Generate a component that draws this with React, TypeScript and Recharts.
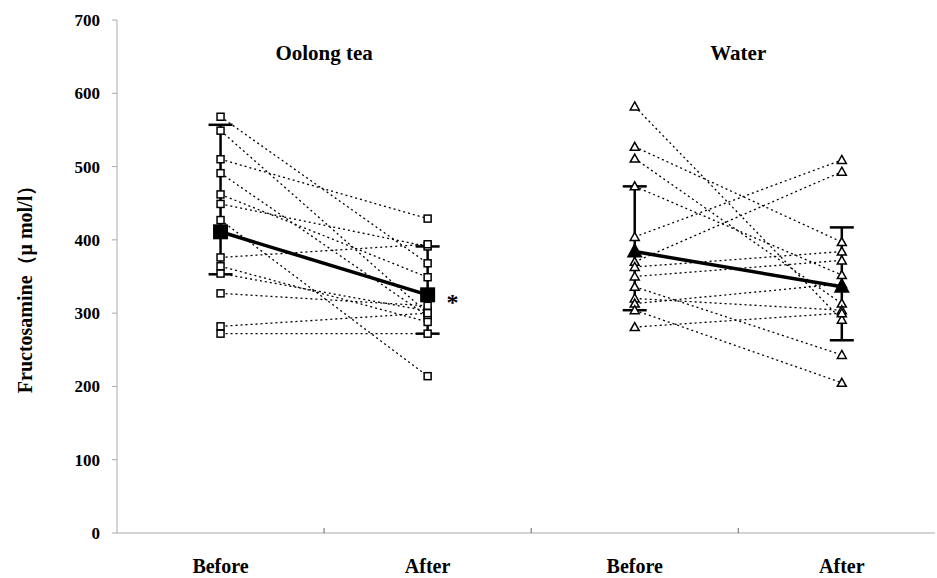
import React from 'react';
import {
  ScatterChart,
  Scatter,
  XAxis,
  YAxis,
  ErrorBar,
  ReferenceDot,
} from 'recharts';

// x positions: Before/After for each group (numeric axis, one unit per slot)
const slots = [0.5, 1.5, 2.5, 3.5];
const slotLabels = ['Before', 'After', 'Before', 'After'];
const groupTitles = ['Oolong tea', 'Water'];

// individual subjects (µmol/l)
const oolongBefore = [568, 549, 510, 491, 462, 449, 427, 376, 364, 354, 327, 282, 272];
const oolongAfter = [368, 300, 429, 296, 349, 391, 214, 394, 288, 303, 310, 300, 272];
const waterBefore = [582, 527, 511, 473, 404, 370, 363, 350, 336, 320, 313, 304, 281];
const waterAfter = [291, 397, 313, 352, 509, 493, 384, 372, 243, 304, 340, 205, 300];

// group means with SD (lower, upper)
const oolongMean = [411, 325];
const oolongSd = [[58, 146], [53, 66]];
const waterMean = [384, 336];
const waterSd = [[80, 89], [73, 81]];

const FONT = '"Liberation Serif", "Times New Roman", serif';

const pair = (b: number, a: number, x0: number, x1: number) => [
  { x: x0, y: b },
  { x: x1, y: a },
];

const meanData = (m: number[], sd: number[][], x0: number, x1: number) => [
  { x: x0, y: m[0], err: sd[0] },
  { x: x1, y: m[1], err: sd[1] },
];

const openSquare = (p: any) => (
  <rect x={p.cx - 3.5} y={p.cy - 3.5} width={7} height={7} fill="#fff" stroke="#000" strokeWidth={1.5} />
);
const bigSquare = (p: any) => (
  <rect x={p.cx - 7.5} y={p.cy - 7.5} width={15} height={15} fill="#000" />
);
const openTriangle = (p: any) => (
  <path
    d={`M${p.cx},${p.cy - 4.5}L${p.cx + 4.5},${p.cy + 3.5}L${p.cx - 4.5},${p.cy + 3.5}Z`}
    fill="#fff"
    stroke="#000"
    strokeWidth={1.5}
  />
);
const bigTriangle = (p: any) => (
  <path d={`M${p.cx},${p.cy - 9}L${p.cx + 8},${p.cy + 6}L${p.cx - 8},${p.cy + 6}Z`} fill="#000" />
);

const dotted = { stroke: '#000', strokeWidth: 1.3, strokeDasharray: '2 3' };
const thick = { stroke: '#000', strokeWidth: 3.5 };

function XTick(props: any) {
  const { x, y, payload } = props;
  const v = payload.value as number;
  const idx = slots.indexOf(v);
  if (idx >= 0) {
    return (
      <text x={x} y={y + 40} textAnchor="middle" fontFamily={FONT} fontWeight="bold" fontSize={20} fill="#000">
        {slotLabels[idx]}
      </text>
    );
  }
  return <line x1={x} x2={x} y1={y} y2={y - 5} stroke="#666" strokeWidth={1} />;
}

function YLabel(props: any) {
  const vb = props.viewBox;
  const cx = 25;
  const cy = vb.y + vb.height / 2 + 8;
  return (
    <text
      x={cx}
      y={cy}
      transform={`rotate(-90 ${cx} ${cy})`}
      textAnchor="middle"
      dominantBaseline="central"
      fontFamily={FONT}
      fontWeight="bold"
      fontSize={20}
      fill="#000"
    >
      Fructosamine（μ mol/l）
    </text>
  );
}

export default function App() {
  return (
    <div style={{ position: 'absolute', left: 0, top: 0, background: '#fff' }}>
      <ScatterChart width={937} height={578} margin={{ top: 20, right: 2, bottom: 0, left: 0 }}>
        <XAxis
          type="number"
          dataKey="x"
          domain={[0, 3.95]}
          ticks={[0.5, 1, 1.5, 2, 2.5, 3, 3.5]}
          tick={<XTick />}
          tickLine={false}
          tickSize={0}
          tickMargin={0}
          height={45}
          axisLine={{ stroke: '#aaa', strokeWidth: 1 }}
          allowDataOverflow
        />
        <YAxis
          type="number"
          dataKey="y"
          domain={[0, 700]}
          ticks={[0, 100, 200, 300, 400, 500, 600, 700]}
          width={117}
          tickSize={5}
          tickMargin={12}
          axisLine={{ stroke: '#aaa', strokeWidth: 1 }}
          tickLine={{ stroke: '#aaa' }}
          tick={{ fontFamily: FONT, fontWeight: 'bold', fontSize: 17, fill: '#000' }}
          label={<YLabel />}
        />

        {oolongBefore.map((b, i) => (
          <Scatter
            key={`o${i}`}
            data={pair(b, oolongAfter[i], slots[0], slots[1])}
            line={dotted}
            shape={openSquare}
            isAnimationActive={false}
          />
        ))}
        {waterBefore.map((b, i) => (
          <Scatter
            key={`w${i}`}
            data={pair(b, waterAfter[i], slots[2], slots[3])}
            line={dotted}
            shape={openTriangle}
            isAnimationActive={false}
          />
        ))}

        <Scatter data={meanData(oolongMean, oolongSd, slots[0], slots[1])} line={thick} shape={bigSquare} isAnimationActive={false}>
          <ErrorBar dataKey="err" direction="y" width={12} stroke="#000" strokeWidth={2.5} />
        </Scatter>
        <Scatter data={meanData(waterMean, waterSd, slots[2], slots[3])} line={thick} shape={bigTriangle} isAnimationActive={false}>
          <ErrorBar dataKey="err" direction="y" width={12} stroke="#000" strokeWidth={2.5} />
        </Scatter>

        <ReferenceDot
          x={1}
          y={655}
          r={0}
          fill="none"
          stroke="none"
          label={{ value: groupTitles[0], position: 'center', fontFamily: FONT, fontWeight: 'bold', fontSize: 21, fill: '#000' }}
        />
        <ReferenceDot
          x={3}
          y={655}
          r={0}
          fill="none"
          stroke="none"
          label={{ value: groupTitles[1], position: 'center', fontFamily: FONT, fontWeight: 'bold', fontSize: 21, fill: '#000' }}
        />
        <ReferenceDot
          x={1.62}
          y={316}
          r={0}
          fill="none"
          stroke="none"
          label={{ value: '*', position: 'center', fontFamily: FONT, fontWeight: 'bold', fontSize: 24, fill: '#000' }}
        />
      </ScatterChart>
    </div>
  );
}
